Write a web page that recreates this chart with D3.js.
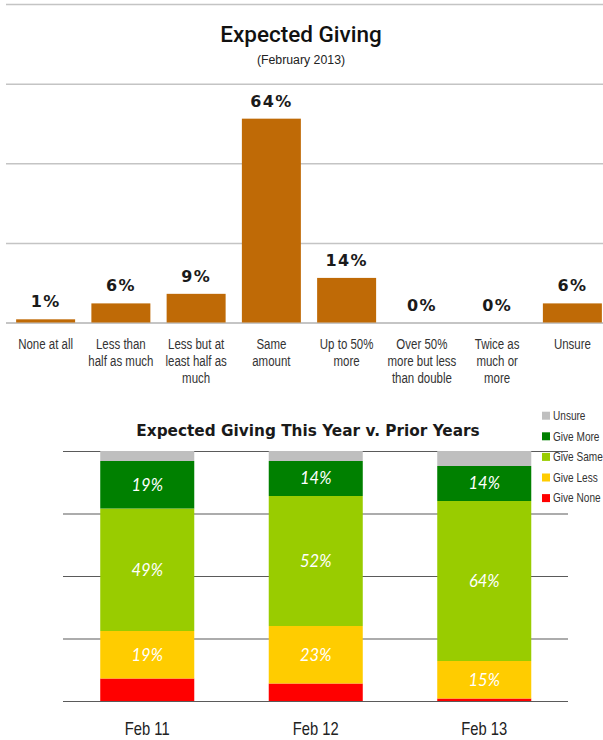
<!DOCTYPE html>
<html>
<head>
<meta charset="utf-8">
<script src="https://cdn.jsdelivr.net/npm/d3@7"></script>
<style>
  html, body { margin: 0; padding: 0; background: #fff; }
  svg { display: block; }
</style>
</head>
<body>
<svg id="chart" width="603" height="740"></svg>
<script>
// ---- Expected giving, February 2013 ----
const categories = [
  ["None at all"],
  ["Less than", "half as much"],
  ["Less but at", "least half as", "much"],
  ["Same", "amount"],
  ["Up to 50%", "more"],
  ["Over 50%", "more but less", "than double"],
  ["Twice as", "much or", "more"],
  ["Unsure"]
];
const shares2013 = [1, 6, 9, 64, 14, 0, 0, 6];
const gridTicks = [0, 25, 50, 75, 100];

// ---- Expected giving this year v. prior years ----
const periods = ["Feb 11", "Feb 12", "Feb 13"];
const seriesNames = ["Give None", "Give Less", "Give Same", "Give More", "Unsure"];
const giveNone = [9, 7, 1];
const giveLess = [19, 23, 15];
const giveSame = [49, 52, 64];
const giveMore = [19, 14, 14];
const unsure = [4, 4, 6];
const labelledSeries = ["Give Less", "Give Same", "Give More"];

const seriesColors = {
  "Give None": "#ff0000",
  "Give Less": "#ffcc00",
  "Give Same": "#99cc00",
  "Give More": "#008000",
  "Unsure": "#bfbfbf"
};

const svg = d3.select("#chart");
// narrow sans: Liberation Sans squeezed horizontally
const narrowFont = "'Liberation Sans', Arial, sans-serif";
const squeeze = "scale(0.82,1)";

// ================= Top chart =================
const topChart = svg.append("g");
const x1 = d3.scaleBand()
  .domain(categories.map((c, i) => i))
  .range([8, 610])
  .paddingInner(0.216)
  .paddingOuter(0.108);
const y1 = d3.scaleLinear().domain([0, 100]).range([322.5, 4]);

// gridlines
topChart.append("g")
  .attr("transform", "translate(6,0)")
  .call(d3.axisLeft(y1).tickValues(gridTicks).tickSize(-600).tickFormat(""))
  .call(g => g.select(".domain").remove())
  .call(g => g.selectAll(".tick line")
    .attr("stroke", d => d === 0 ? "#8c8c8c" : "#c4c4c4")
    .attr("stroke-width", d => d === 0 ? 1.2 : 1.5));

topChart.append("text")
  .attr("x", 301).attr("y", 42)
  .attr("text-anchor", "middle")
  .style("font-family", "Roboto, sans-serif")
  .style("font-weight", 500)
  .style("font-size", "22.5px")
  .attr("fill", "#111")
  .text("Expected Giving");

topChart.append("text")
  .attr("x", 301).attr("y", 64)
  .attr("text-anchor", "middle")
  .style("font-family", "'Liberation Sans', Arial, sans-serif")
  .style("font-size", "12.3px")
  .attr("fill", "#222")
  .text("(February 2013)");

topChart.append("g").selectAll("rect")
  .data(shares2013)
  .join("rect")
  .attr("x", (d, i) => x1(i))
  .attr("width", x1.bandwidth())
  .attr("y", d => y1(d))
  .attr("height", d => y1(0) - y1(d))
  .attr("fill", "#bf6a06");

topChart.append("g").selectAll("text")
  .data(shares2013)
  .join("text")
  .attr("x", (d, i) => x1(i) + x1.bandwidth() / 2)
  .attr("y", d => y1(d) - 12)
  .attr("text-anchor", "middle")
  .style("font-family", "'DejaVu Sans', sans-serif")
  .style("font-weight", "bold")
  .style("font-size", "16px")
  .style("letter-spacing", "1.3px")
  .attr("fill", "#1a1a1a")
  .text(d => d + "%");

// category axis with wrapped labels
const xAxis1 = topChart.append("g")
  .attr("transform", `translate(0,${y1(0)})`)
  .call(d3.axisBottom(x1).tickSize(0).tickFormat(""));
xAxis1.select(".domain").remove();
xAxis1.selectAll(".tick text").remove();
xAxis1.selectAll(".tick").append("text")
  .attr("transform", squeeze)
  .attr("text-anchor", "middle")
  .style("font-family", narrowFont)
  .style("font-size", "14px")
  .attr("fill", "#333")
  .selectAll("tspan")
  .data(i => categories[i])
  .join("tspan")
  .attr("x", 0)
  .attr("y", (d, j) => 27 + j * 17)
  .text(d => d);

// ================= Bottom chart =================
const bottomChart = svg.append("g");
const x2 = d3.scaleBand()
  .domain(periods)
  .range([63, 568.5])
  .paddingInner(0.442)
  .paddingOuter(0.221);
const y2 = d3.scaleLinear().domain([0, 100]).range([701, 451]);

bottomChart.append("g")
  .attr("transform", "translate(63,0)")
  .call(d3.axisLeft(y2).tickValues(gridTicks).tickSize(-505).tickFormat(""))
  .call(g => g.select(".domain").remove())
  .call(g => g.selectAll(".tick line").attr("stroke", "#5a5a5a").attr("stroke-width", 1.2));

bottomChart.append("text")
  .attr("x", 308).attr("y", 436)
  .attr("text-anchor", "middle")
  .style("font-family", "'DejaVu Sans', sans-serif")
  .style("font-weight", "bold")
  .style("font-size", "15.3px")
  .attr("fill", "#1a1a1a")
  .text("Expected Giving This Year v. Prior Years");

const rows = periods.map((p, i) => ({
  period: p,
  "Give None": giveNone[i],
  "Give Less": giveLess[i],
  "Give Same": giveSame[i],
  "Give More": giveMore[i],
  "Unsure": unsure[i]
}));
const stacked = d3.stack().keys(seriesNames)(rows);

const layers = bottomChart.append("g").selectAll("g")
  .data(stacked)
  .join("g")
  .attr("fill", d => seriesColors[d.key]);

layers.selectAll("rect")
  .data(d => d)
  .join("rect")
  .attr("x", d => x2(d.data.period))
  .attr("width", x2.bandwidth())
  .attr("y", d => y2(d[1]))
  .attr("height", d => y2(d[0]) - y2(d[1]));

bottomChart.append("g").selectAll("g")
  .data(stacked.filter(s => labelledSeries.includes(s.key)))
  .join("g")
  .selectAll("text")
  .data(d => d.map(v => ({ v, key: d.key })))
  .join("text")
  .attr("x", d => x2(d.v.data.period) + x2.bandwidth() / 2)
  .attr("y", d => (y2(d.v[0]) + y2(d.v[1])) / 2)
  .attr("dy", "0.36em")
  .attr("text-anchor", "middle")
  .style("font-family", "Lato, sans-serif")
  .style("font-style", "italic")
  .style("font-size", "16.5px")
  .attr("fill", "#ffffff")
  .text(d => d.v.data[d.key] + "%");

const xAxis2 = bottomChart.append("g")
  .attr("transform", `translate(0,${y2(0)})`)
  .call(d3.axisBottom(x2).tickSize(0));
xAxis2.select(".domain").remove();
xAxis2.selectAll(".tick text")
  .attr("transform", squeeze)
  .attr("y", 34).attr("dy", 0)
  .style("font-family", narrowFont)
  .style("font-size", "18px")
  .attr("fill", "#222");

// legend
const legendOrder = seriesNames.slice().reverse();
const legend = bottomChart.append("g").selectAll("g")
  .data(legendOrder)
  .join("g")
  .attr("transform", (d, i) => `translate(542,${415.7 + i * 20.6})`);
legend.append("rect")
  .attr("x", 0).attr("y", -4)
  .attr("width", 8).attr("height", 8)
  .attr("fill", d => seriesColors[d]);
legend.append("text")
  .attr("transform", `translate(11,0) ${squeeze}`)
  .attr("dy", "0.35em")
  .style("font-family", narrowFont)
  .style("font-size", "12.3px")
  .attr("fill", "#333")
  .text(d => d);
</script>
</body>
</html>
